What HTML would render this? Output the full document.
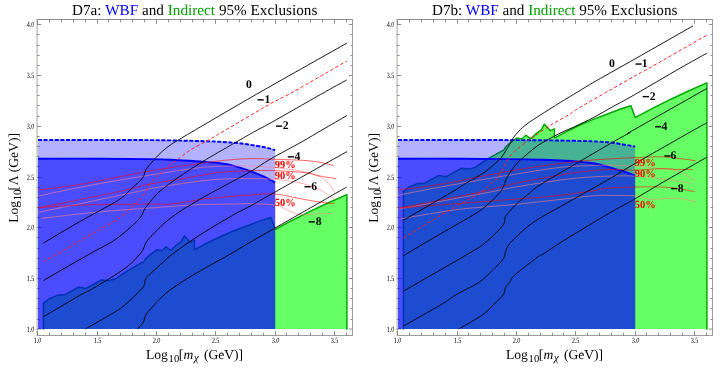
<!DOCTYPE html>
<html><head><meta charset="utf-8"><title>D7 WBF and Indirect 95% Exclusions</title>
<style>
html,body{margin:0;padding:0;background:#fff;}
svg{display:block;font-family:"Liberation Serif",serif;will-change:transform;}
svg text{text-rendering:geometricPrecision;}
</style></head>
<body>
<svg width="720" height="370" viewBox="0 0 720 370">
<rect width="720" height="370" fill="#fff"/>
<g transform="translate(0,0)">
<path d="M37.5,19.5 H352.5" stroke="#8e8e8e" stroke-width="1" fill="none"/>
<path d="M352.5,19.0 V336.0" stroke="#9c9c9c" stroke-width="1" fill="none"/>
<path d="M37.0,335.5 H353.0" stroke="#9c9c9c" stroke-width="1" fill="none"/>
<path d="M37.1,19.0 V336.0" stroke="#cfcfcb" stroke-width="1.8" fill="none"/>
<path d="M37.50,335.5 v-4.4 M37.50,19.5 v4.4 M49.50,335.5 v-2.8 M49.50,19.5 v2.8 M61.50,335.5 v-2.8 M61.50,19.5 v2.8 M73.50,335.5 v-2.8 M73.50,19.5 v2.8 M85.50,335.5 v-2.8 M85.50,19.5 v2.8 M97.50,335.5 v-4.4 M97.50,19.5 v4.4 M108.50,335.5 v-2.8 M108.50,19.5 v2.8 M120.50,335.5 v-2.8 M120.50,19.5 v2.8 M132.50,335.5 v-2.8 M132.50,19.5 v2.8 M144.50,335.5 v-2.8 M144.50,19.5 v2.8 M156.50,335.5 v-4.4 M156.50,19.5 v4.4 M168.50,335.5 v-2.8 M168.50,19.5 v2.8 M180.50,335.5 v-2.8 M180.50,19.5 v2.8 M192.50,335.5 v-2.8 M192.50,19.5 v2.8 M203.50,335.5 v-2.8 M203.50,19.5 v2.8 M215.50,335.5 v-4.4 M215.50,19.5 v4.4 M227.50,335.5 v-2.8 M227.50,19.5 v2.8 M239.50,335.5 v-2.8 M239.50,19.5 v2.8 M251.50,335.5 v-2.8 M251.50,19.5 v2.8 M263.50,335.5 v-2.8 M263.50,19.5 v2.8 M275.50,335.5 v-4.4 M275.50,19.5 v4.4 M286.50,335.5 v-2.8 M286.50,19.5 v2.8 M298.50,335.5 v-2.8 M298.50,19.5 v2.8 M310.50,335.5 v-2.8 M310.50,19.5 v2.8 M322.50,335.5 v-2.8 M322.50,19.5 v2.8 M334.50,335.5 v-4.4 M334.50,19.5 v4.4 M346.50,335.5 v-2.8 M346.50,19.5 v2.8 M37.0,329.00 h4.1 M352.5,329.00 h-3.6 M37.0,319.50 h2.5 M352.5,319.50 h-2.0 M37.0,308.50 h2.5 M352.5,308.50 h-2.0 M37.0,298.50 h2.5 M352.5,298.50 h-2.0 M37.0,288.50 h2.5 M352.5,288.50 h-2.0 M37.0,278.50 h4.1 M352.5,278.50 h-3.6 M37.0,268.50 h2.5 M352.5,268.50 h-2.0 M37.0,258.50 h2.5 M352.5,258.50 h-2.0 M37.0,248.50 h2.5 M352.5,248.50 h-2.0 M37.0,237.50 h2.5 M352.5,237.50 h-2.0 M37.0,227.50 h4.1 M352.5,227.50 h-3.6 M37.0,217.50 h2.5 M352.5,217.50 h-2.0 M37.0,207.50 h2.5 M352.5,207.50 h-2.0 M37.0,197.50 h2.5 M352.5,197.50 h-2.0 M37.0,187.50 h2.5 M352.5,187.50 h-2.0 M37.0,177.50 h4.1 M352.5,177.50 h-3.6 M37.0,166.50 h2.5 M352.5,166.50 h-2.0 M37.0,156.50 h2.5 M352.5,156.50 h-2.0 M37.0,146.50 h2.5 M352.5,146.50 h-2.0 M37.0,136.50 h2.5 M352.5,136.50 h-2.0 M37.0,126.50 h4.1 M352.5,126.50 h-3.6 M37.0,116.50 h2.5 M352.5,116.50 h-2.0 M37.0,105.50 h2.5 M352.5,105.50 h-2.0 M37.0,95.50 h2.5 M352.5,95.50 h-2.0 M37.0,85.50 h2.5 M352.5,85.50 h-2.0 M37.0,75.50 h4.1 M352.5,75.50 h-3.6 M37.0,65.50 h2.5 M352.5,65.50 h-2.0 M37.0,55.50 h2.5 M352.5,55.50 h-2.0 M37.0,45.50 h2.5 M352.5,45.50 h-2.0 M37.0,34.50 h2.5 M352.5,34.50 h-2.0 M37.0,24.50 h4.1 M352.5,24.50 h-3.6" fill="none" stroke="#6a6a6a" stroke-width="0.75"/>
<path d="M43.4,329.0 L43.4,303.4 L48.4,299.2 L57.7,295.1 L64.4,295.1 L78.6,287.2 L86.1,288.4 L101.2,280.0 L108.8,280.8 L115.5,278.8 L128.9,269.9 L144.0,261.5 L145.6,258.7 L150.0,254.8 L156.7,249.8 L161.7,250.7 L165.9,247.0 L170.9,250.3 L176.8,244.8 L181.0,241.9 L184.4,235.9 L190.2,242.3 L194.4,240.6 L194.4,249.8 L207.0,243.0 L220.5,236.5 L234.0,230.8 L247.6,225.7 L260.0,220.9 L270.9,217.5 L275.2,229.3 L293.0,219.8 L311.0,210.9 L329.0,202.5 L346.9,194.6 L346.9,329.0Z" fill="#00ff00" fill-opacity="0.6"/>
<path d="M43.4,329.7 L43.4,303.4 L48.4,299.2 L57.7,295.1 L64.4,295.1 L78.6,287.2 L86.1,288.4 L101.2,280.0 L108.8,280.8 L115.5,278.8 L128.9,269.9 L144.0,261.5 L145.6,258.7 L150.0,254.8 L156.7,249.8 L161.7,250.7 L165.9,247.0 L170.9,250.3 L176.8,244.8 L181.0,241.9 L184.4,235.9 L190.2,242.3 L194.4,240.6 L194.4,249.8 L207.0,243.0 L220.5,236.5 L234.0,230.8 L247.6,225.7 L260.0,220.9 L270.9,217.5 L275.2,229.3 L293.0,219.8 L311.0,210.9 L329.0,202.5 L346.9,194.6 L346.9,329.7" fill="none" stroke="#00a800" stroke-width="1.5" stroke-linejoin="round"/>
<path d="M38.0,140.0 C48.3,140.0 81.3,140.0 100.0,140.0 C118.7,140.0 136.1,140.0 150.0,140.1 C163.9,140.2 174.3,140.5 183.5,140.7 C192.7,140.9 198.9,141.0 205.0,141.2 C211.1,141.4 215.0,141.5 220.0,141.8 C225.0,142.1 230.0,142.3 234.9,142.8 C239.8,143.3 244.8,143.9 249.7,144.7 C254.6,145.4 260.4,146.4 264.6,147.3 C268.9,148.2 273.4,149.6 275.2,150.0 L275.2,329.0 L38,329.0Z" fill="#0000ff" fill-opacity="0.3"/>
<path d="M38.0,158.7 C48.3,158.7 81.3,158.6 100.0,158.7 C118.7,158.8 137.5,158.9 150.0,159.1 C162.5,159.3 166.6,159.6 175.0,160.0 C183.4,160.4 192.8,160.9 200.3,161.5 C207.8,162.1 214.2,162.5 220.0,163.3 C225.8,164.1 230.0,164.8 234.9,166.1 C239.8,167.3 244.8,169.0 249.7,170.8 C254.6,172.6 260.4,174.9 264.6,176.8 C268.9,178.8 273.4,181.6 275.2,182.5 L275.2,329.0 L38,329.0Z" fill="#0000ff" fill-opacity="0.5714"/>
<path d="M38.0,140.0 C48.3,140.0 81.3,140.0 100.0,140.0 C118.7,140.0 136.1,140.0 150.0,140.1 C163.9,140.2 174.3,140.5 183.5,140.7 C192.7,140.9 198.9,141.0 205.0,141.2 C211.1,141.4 215.0,141.5 220.0,141.8 C225.0,142.1 230.0,142.3 234.9,142.8 C239.8,143.3 244.8,143.9 249.7,144.7 C254.6,145.4 260.4,146.4 264.6,147.3 C268.9,148.2 273.4,149.6 275.2,150.0" fill="none" stroke="#0000ff" stroke-width="1.9" stroke-dasharray="4.1 1.5"/>
<path d="M38.0,158.7 C48.3,158.7 81.3,158.6 100.0,158.7 C118.7,158.8 137.5,158.9 150.0,159.1 C162.5,159.3 166.6,159.6 175.0,160.0 C183.4,160.4 192.8,160.9 200.3,161.5 C207.8,162.1 214.2,162.5 220.0,163.3 C225.8,164.1 230.0,164.8 234.9,166.1 C239.8,167.3 244.8,169.0 249.7,170.8 C254.6,172.6 260.4,174.9 264.6,176.8 C268.9,178.8 273.4,181.6 275.2,182.5" fill="none" stroke="#0000ff" stroke-width="1.9"/>
<path d="M38.4,196.2 C41.5,195.5 46.9,194.0 56.8,192.0 C66.6,190.0 82.0,186.8 97.5,184.0 C113.0,181.2 132.9,177.8 150.0,175.1 C167.1,172.4 186.3,169.1 200.3,167.6 C214.3,166.1 225.5,166.3 233.8,166.0 C242.1,165.7 243.1,165.7 250.0,166.0 C256.9,166.3 266.6,166.9 275.0,167.7 C283.4,168.5 293.3,169.7 300.3,171.0 C307.3,172.3 312.6,173.8 317.0,175.6 C321.4,177.3 324.2,179.7 326.5,181.5 C328.8,183.3 329.6,184.6 331.0,186.5 C332.4,188.4 334.3,191.9 335.0,193.0" fill="none" stroke="#ff8080" stroke-width="0.6"/>
<path d="M38.4,212.4 C54.6,209.0 117.0,195.9 135.6,192.0 C154.2,188.1 142.0,190.1 150.0,188.7 C158.0,187.2 172.3,184.9 183.5,183.3 C194.7,181.8 205.9,180.2 217.0,179.4 C228.1,178.6 240.3,178.6 250.0,178.6 C259.7,178.6 266.7,178.7 275.0,179.4 C283.3,180.1 293.0,181.2 300.0,182.8 C307.0,184.4 313.1,187.2 317.0,188.7 C320.9,190.2 320.8,189.9 323.7,191.7 C326.6,193.5 332.8,198.2 334.6,199.5" fill="none" stroke="#ff8080" stroke-width="0.6"/>
<path d="M40.9,218.5 C50.2,217.4 78.8,213.8 97.0,212.1 C115.2,210.3 137.0,209.0 150.0,208.0 C163.0,207.0 166.7,206.8 175.1,206.2 C183.5,205.6 190.5,204.9 200.3,204.6 C210.1,204.2 225.5,204.2 233.8,204.1 C242.1,203.9 243.1,203.5 250.0,203.7 C256.9,203.8 268.9,204.0 275.0,205.0 C281.1,206.0 282.7,208.0 286.9,209.6 C291.1,211.2 295.3,213.9 300.3,214.6 C305.3,215.3 311.4,214.0 317.0,213.8 C322.6,213.6 331.0,213.6 333.8,213.5" fill="none" stroke="#ff8080" stroke-width="0.6"/>
<path d="M38.4,190.0 C45.8,189.0 63.9,187.2 82.5,184.0 C101.1,180.8 130.4,174.4 150.0,171.0 C169.6,167.6 187.4,165.3 200.0,163.5 C212.6,161.7 217.0,161.0 225.4,160.2 C233.8,159.4 242.3,158.8 250.6,158.6 C258.9,158.4 266.7,159.0 275.0,159.3 C283.3,159.6 293.3,159.8 300.3,160.2 C307.3,160.6 311.4,160.9 317.0,161.8 C322.6,162.7 331.0,164.9 333.8,165.5" fill="none" stroke="#ff0000" stroke-width="0.6"/>
<path d="M38.4,207.9 C51.5,205.2 98.5,196.0 117.1,192.0 C135.7,188.0 138.9,186.2 150.0,184.0 C161.1,181.8 172.3,180.5 183.5,178.6 C194.7,176.7 205.8,174.0 217.0,172.7 C228.2,171.4 240.9,171.0 250.6,170.7 C260.3,170.4 265.9,170.4 275.0,170.7 C284.1,171.0 297.7,171.8 305.3,172.7 C312.9,173.6 315.2,175.1 320.4,176.1 C325.6,177.1 333.6,178.2 336.3,178.6" fill="none" stroke="#ff0000" stroke-width="0.6"/>
<path d="M38.4,207.9 C45.4,207.4 61.7,205.7 80.3,205.1 C98.9,204.5 135.6,204.2 150.0,204.1 C164.4,204.0 161.2,204.7 166.8,204.4 C172.4,204.1 177.9,203.2 183.5,202.4 C189.1,201.6 193.3,200.4 200.3,199.5 C207.3,198.6 217.0,197.8 225.4,197.0 C233.8,196.2 242.3,195.5 250.6,195.0 C258.9,194.5 266.7,193.4 275.0,194.0 C283.3,194.6 292.5,197.3 300.3,198.7 C308.1,200.1 316.3,201.6 322.0,202.4 C327.7,203.2 332.5,203.5 334.6,203.7" fill="none" stroke="#ff0000" stroke-width="0.6"/>
<path d="M43.4,243.1 C48.9,239.8 69.7,227.3 80.3,221.3 C90.9,215.3 107.3,206.7 113.8,202.9 C120.3,199.1 121.3,198.2 123.8,196.2 C126.3,194.2 128.0,191.9 130.5,189.5 C133.0,187.1 138.6,182.4 140.6,180.3 C142.6,178.2 143.2,176.7 144.0,175.2 C144.8,173.7 144.7,171.8 145.6,170.2 C146.5,168.6 148.1,166.7 150.0,164.4 C151.9,162.1 155.9,157.6 158.4,155.1 C160.9,152.6 164.0,149.7 166.8,147.6 C169.6,145.5 172.5,143.5 176.8,140.9 C181.1,138.3 182.6,137.4 195.2,130.0 C207.8,122.6 238.1,104.7 260.9,91.7 C283.7,78.7 334.0,50.4 346.9,43.1" fill="none" stroke="#000" stroke-width="0.9" stroke-linejoin="round"/>
<path d="M43.4,280.5 C50.3,276.5 78.9,260.0 89.5,254.0 C100.1,248.0 107.6,244.6 113.8,240.6 C120.0,236.6 126.6,230.7 130.6,227.2 C134.6,223.7 138.5,219.9 140.6,217.1 C142.7,214.3 143.4,211.1 144.8,208.8 C146.2,206.5 148.0,204.4 150.0,202.0 C152.0,199.6 155.1,195.5 158.4,192.5 C161.7,189.5 168.0,184.8 171.8,182.0 C175.6,179.2 178.7,177.1 183.5,173.9 C188.3,170.8 196.1,165.6 203.6,161.0 C211.1,156.4 225.7,148.1 233.8,143.4 C241.9,138.8 251.9,133.0 257.3,130.0 C262.7,127.0 259.8,129.0 270.0,123.3 C280.2,117.6 313.9,98.2 325.4,91.7 C336.9,85.2 343.7,81.7 346.9,79.9" fill="none" stroke="#000" stroke-width="0.9" stroke-linejoin="round"/>
<path d="M43.4,316.8 C48.9,313.5 73.3,299.1 80.3,295.1 C87.3,291.1 85.3,292.9 90.3,290.0 C95.3,287.1 108.3,279.3 113.8,275.8 C119.3,272.3 124.2,268.9 127.2,266.6 C130.2,264.3 132.1,262.4 133.9,260.7 C135.7,259.0 137.7,256.5 139.0,255.0 C140.3,253.5 141.6,252.2 142.6,250.5 C143.6,248.8 144.5,245.6 145.4,243.9 C146.3,242.2 147.2,240.6 148.5,239.0 C149.8,237.4 151.7,235.8 153.9,233.5 C156.1,231.2 160.6,226.6 163.4,224.0 C166.2,221.4 170.0,218.6 172.8,216.5 C175.6,214.4 179.5,211.6 182.3,209.8 C185.1,208.0 188.9,205.9 191.7,204.2 C194.5,202.5 197.7,200.5 201.2,198.5 C204.7,196.5 207.7,194.9 215.0,190.9 C222.3,186.9 241.8,176.6 250.0,171.9 C258.2,167.2 262.2,163.8 270.0,159.3 C277.8,154.8 294.2,146.1 302.0,141.7 C309.8,137.3 315.3,133.9 322.0,130.0 C328.7,126.1 343.2,117.7 346.9,115.5" fill="none" stroke="#000" stroke-width="0.9" stroke-linejoin="round"/>
<path d="M85.3,329.0 C89.6,326.5 108.0,316.1 113.8,312.6 C119.6,309.1 120.3,308.8 123.8,305.9 C127.3,303.0 134.8,295.8 137.3,293.4 C139.8,291.0 139.6,291.1 140.6,290.0 C141.6,288.9 143.2,287.4 144.0,285.8 C144.8,284.2 144.7,280.9 145.6,279.1 C146.5,277.3 145.9,277.9 150.0,274.1 C154.1,270.3 165.1,259.9 172.6,254.0 C180.1,248.1 191.1,240.6 200.3,234.7 C209.5,228.8 226.3,218.9 233.8,214.6 C241.3,210.3 243.8,209.6 250.0,206.2 C256.2,202.8 260.6,200.2 275.1,192.0 C289.6,183.8 336.1,157.7 346.9,151.6" fill="none" stroke="#000" stroke-width="0.9" stroke-linejoin="round"/>
<path d="M137.3,329.0 C138.2,328.1 141.9,324.8 143.1,322.7 C144.3,320.6 144.6,317.1 145.6,315.1 C146.6,313.2 146.8,313.1 150.0,309.7 C153.2,306.3 160.5,297.6 166.8,292.5 C173.1,287.4 182.4,281.6 191.9,275.8 C201.4,270.0 221.7,259.0 230.4,254.0 C239.1,249.0 243.3,246.2 250.0,242.3 C256.7,238.4 261.9,235.5 275.1,228.0 C288.3,220.5 327.2,198.2 338.0,192.0 C348.8,185.8 345.6,187.8 346.9,187.0" fill="none" stroke="#000" stroke-width="0.9" stroke-linejoin="round"/>
<path d="M43.4,261.5 C45.5,260.3 52.2,256.8 57.7,253.7 C63.2,250.6 73.1,244.7 80.3,240.6 C87.5,236.5 99.4,229.9 105.4,226.4 C111.4,222.9 116.7,219.9 120.5,217.1 C124.3,214.3 127.8,210.4 130.6,207.9 C133.4,205.4 136.7,202.8 138.9,200.4 C141.2,198.0 143.9,194.6 145.6,192.0 C147.3,189.4 147.8,186.1 150.0,183.3 C152.2,180.5 157.5,175.9 160.0,173.6 C162.5,171.3 164.3,169.7 166.8,167.7 C169.3,165.7 173.3,162.8 176.8,160.2 C180.3,157.6 185.7,153.0 190.2,150.1 C194.7,147.2 201.6,143.9 207.0,140.9 C212.4,137.9 216.6,135.3 226.0,129.8 C235.4,124.3 259.9,109.7 270.0,104.0 C280.1,98.3 282.1,98.2 293.6,91.7 C305.1,85.2 338.9,65.6 346.9,61.0" fill="none" stroke="#ff1a1a" stroke-width="0.95" stroke-dasharray="3.4 2.3" stroke-linejoin="round"/>
<g font-size="8" fill="#000">
<text x="33.7" y="343.1" textLength="7.8" lengthAdjust="spacingAndGlyphs">1.0</text>
<text x="93.7" y="343.1" textLength="7.8" lengthAdjust="spacingAndGlyphs">1.5</text>
<text x="152.7" y="343.1" textLength="7.8" lengthAdjust="spacingAndGlyphs">2.0</text>
<text x="211.7" y="343.1" textLength="7.8" lengthAdjust="spacingAndGlyphs">2.5</text>
<text x="271.7" y="343.1" textLength="7.8" lengthAdjust="spacingAndGlyphs">3.0</text>
<text x="330.7" y="343.1" textLength="7.8" lengthAdjust="spacingAndGlyphs">3.5</text>
<text x="26.7" y="331.8" textLength="7.7" lengthAdjust="spacingAndGlyphs">1.0</text>
<text x="26.7" y="281.0" textLength="7.7" lengthAdjust="spacingAndGlyphs">1.5</text>
<text x="26.7" y="230.2" textLength="7.7" lengthAdjust="spacingAndGlyphs">2.0</text>
<text x="26.7" y="179.5" textLength="7.7" lengthAdjust="spacingAndGlyphs">2.5</text>
<text x="26.7" y="128.8" textLength="7.7" lengthAdjust="spacingAndGlyphs">3.0</text>
<text x="26.7" y="78.0" textLength="7.7" lengthAdjust="spacingAndGlyphs">3.5</text>
<text x="26.7" y="27.2" textLength="7.7" lengthAdjust="spacingAndGlyphs">4.0</text>
</g>
<g font-size="11.7" font-weight="bold" fill="#000" text-anchor="end">
<text x="251.75" y="88.1">0</text>
<rect x="257.5" y="99.15" width="6.2" height="1.4"/>
<text x="270.45" y="103.1">1</text>
<rect x="276" y="125.45" width="6.2" height="1.4"/>
<text x="288.55" y="129.4">2</text>
<rect x="287.7" y="156.15" width="6.2" height="1.4"/>
<text x="300.35" y="160.1">4</text>
<rect x="304.5" y="186.05" width="6.2" height="1.4"/>
<text x="317.05" y="190.0">6</text>
<rect x="308.65" y="221.15" width="6.2" height="1.4"/>
<text x="321.70" y="225.1">8</text>
</g>
<g font-size="11" font-weight="bold" fill="#ff0000">
<text x="274.7" y="167.9" textLength="20.9" lengthAdjust="spacingAndGlyphs">99%</text>
<text x="274.7" y="178.5" textLength="20.9" lengthAdjust="spacingAndGlyphs">90%</text>
<text x="274.7" y="205.6" textLength="20.9" lengthAdjust="spacingAndGlyphs">50%</text>
</g>
<text x="72" y="15.2" font-size="15.2" textLength="245.4" lengthAdjust="spacing" xml:space="preserve">D7a: <tspan fill="#0000ff">WBF</tspan> and <tspan fill="#00a000">Indirect</tspan> 95% Exclusions</text>
<text y="359" font-size="13.6" xml:space="preserve"><tspan x="146.0">Log</tspan><tspan font-size="10.6" dy="2.7" x="168.6">10</tspan><tspan dy="-2.7" x="178.7">[</tspan><tspan font-style="italic" x="183.6">m</tspan><tspan font-style="italic" font-size="10.8" dy="1.6" x="194.0">&#967;</tspan><tspan dy="-1.6" x="203.9">(GeV)]</tspan></text>
<text transform="translate(17.9,222.8) rotate(-90)" font-size="13.6" xml:space="preserve"><tspan x="0">Log</tspan><tspan font-size="11.2" dy="2.7" x="22.2">10</tspan><tspan dy="-2.7" x="32.3">[</tspan><tspan x="37.5">&#923;</tspan><tspan x="50.5">(GeV)]</tspan></text>
</g>
<g transform="translate(360,0)">
<path d="M37.5,19.5 H352.5" stroke="#8e8e8e" stroke-width="1" fill="none"/>
<path d="M352.5,19.0 V336.0" stroke="#9c9c9c" stroke-width="1" fill="none"/>
<path d="M37.0,335.5 H353.0" stroke="#9c9c9c" stroke-width="1" fill="none"/>
<path d="M37.1,19.0 V336.0" stroke="#cfcfcb" stroke-width="1.8" fill="none"/>
<path d="M37.50,335.5 v-4.4 M37.50,19.5 v4.4 M49.50,335.5 v-2.8 M49.50,19.5 v2.8 M61.50,335.5 v-2.8 M61.50,19.5 v2.8 M73.50,335.5 v-2.8 M73.50,19.5 v2.8 M85.50,335.5 v-2.8 M85.50,19.5 v2.8 M97.50,335.5 v-4.4 M97.50,19.5 v4.4 M108.50,335.5 v-2.8 M108.50,19.5 v2.8 M120.50,335.5 v-2.8 M120.50,19.5 v2.8 M132.50,335.5 v-2.8 M132.50,19.5 v2.8 M144.50,335.5 v-2.8 M144.50,19.5 v2.8 M156.50,335.5 v-4.4 M156.50,19.5 v4.4 M168.50,335.5 v-2.8 M168.50,19.5 v2.8 M180.50,335.5 v-2.8 M180.50,19.5 v2.8 M192.50,335.5 v-2.8 M192.50,19.5 v2.8 M203.50,335.5 v-2.8 M203.50,19.5 v2.8 M215.50,335.5 v-4.4 M215.50,19.5 v4.4 M227.50,335.5 v-2.8 M227.50,19.5 v2.8 M239.50,335.5 v-2.8 M239.50,19.5 v2.8 M251.50,335.5 v-2.8 M251.50,19.5 v2.8 M263.50,335.5 v-2.8 M263.50,19.5 v2.8 M275.50,335.5 v-4.4 M275.50,19.5 v4.4 M286.50,335.5 v-2.8 M286.50,19.5 v2.8 M298.50,335.5 v-2.8 M298.50,19.5 v2.8 M310.50,335.5 v-2.8 M310.50,19.5 v2.8 M322.50,335.5 v-2.8 M322.50,19.5 v2.8 M334.50,335.5 v-4.4 M334.50,19.5 v4.4 M346.50,335.5 v-2.8 M346.50,19.5 v2.8 M37.0,329.00 h4.1 M352.5,329.00 h-3.6 M37.0,319.50 h2.5 M352.5,319.50 h-2.0 M37.0,308.50 h2.5 M352.5,308.50 h-2.0 M37.0,298.50 h2.5 M352.5,298.50 h-2.0 M37.0,288.50 h2.5 M352.5,288.50 h-2.0 M37.0,278.50 h4.1 M352.5,278.50 h-3.6 M37.0,268.50 h2.5 M352.5,268.50 h-2.0 M37.0,258.50 h2.5 M352.5,258.50 h-2.0 M37.0,248.50 h2.5 M352.5,248.50 h-2.0 M37.0,237.50 h2.5 M352.5,237.50 h-2.0 M37.0,227.50 h4.1 M352.5,227.50 h-3.6 M37.0,217.50 h2.5 M352.5,217.50 h-2.0 M37.0,207.50 h2.5 M352.5,207.50 h-2.0 M37.0,197.50 h2.5 M352.5,197.50 h-2.0 M37.0,187.50 h2.5 M352.5,187.50 h-2.0 M37.0,177.50 h4.1 M352.5,177.50 h-3.6 M37.0,166.50 h2.5 M352.5,166.50 h-2.0 M37.0,156.50 h2.5 M352.5,156.50 h-2.0 M37.0,146.50 h2.5 M352.5,146.50 h-2.0 M37.0,136.50 h2.5 M352.5,136.50 h-2.0 M37.0,126.50 h4.1 M352.5,126.50 h-3.6 M37.0,116.50 h2.5 M352.5,116.50 h-2.0 M37.0,105.50 h2.5 M352.5,105.50 h-2.0 M37.0,95.50 h2.5 M352.5,95.50 h-2.0 M37.0,85.50 h2.5 M352.5,85.50 h-2.0 M37.0,75.50 h4.1 M352.5,75.50 h-3.6 M37.0,65.50 h2.5 M352.5,65.50 h-2.0 M37.0,55.50 h2.5 M352.5,55.50 h-2.0 M37.0,45.50 h2.5 M352.5,45.50 h-2.0 M37.0,34.50 h2.5 M352.5,34.50 h-2.0 M37.0,24.50 h4.1 M352.5,24.50 h-3.6" fill="none" stroke="#6a6a6a" stroke-width="0.75"/>
<path d="M43.4,329.0 L43.4,191.7 L48.4,187.5 L57.7,183.4 L64.4,183.4 L78.6,175.5 L86.1,176.7 L101.2,168.3 L108.8,169.1 L115.5,167.1 L128.9,158.2 L144.0,149.8 L145.6,147.0 L150.0,143.1 L156.7,138.1 L161.7,139.0 L165.9,135.3 L170.9,138.6 L176.8,133.1 L181.0,130.2 L184.4,124.2 L190.2,130.6 L194.4,128.9 L194.4,138.1 L207.0,131.3 L220.5,124.8 L234.0,119.1 L247.6,114.0 L260.0,109.2 L270.9,105.8 L275.2,117.6 L293.0,108.1 L311.0,99.2 L329.0,90.8 L346.9,82.9 L346.9,329.0Z" fill="#00ff00" fill-opacity="0.6"/>
<path d="M43.4,329.7 L43.4,191.7 L48.4,187.5 L57.7,183.4 L64.4,183.4 L78.6,175.5 L86.1,176.7 L101.2,168.3 L108.8,169.1 L115.5,167.1 L128.9,158.2 L144.0,149.8 L145.6,147.0 L150.0,143.1 L156.7,138.1 L161.7,139.0 L165.9,135.3 L170.9,138.6 L176.8,133.1 L181.0,130.2 L184.4,124.2 L190.2,130.6 L194.4,128.9 L194.4,138.1 L207.0,131.3 L220.5,124.8 L234.0,119.1 L247.6,114.0 L260.0,109.2 L270.9,105.8 L275.2,117.6 L293.0,108.1 L311.0,99.2 L329.0,90.8 L346.9,82.9 L346.9,329.7" fill="none" stroke="#00a800" stroke-width="1.5" stroke-linejoin="round"/>
<path d="M38.0,140.0 C48.3,140.0 81.3,140.0 100.0,140.0 C118.7,140.0 136.1,140.0 150.0,140.1 C163.9,140.2 171.8,140.2 183.5,140.3 C195.2,140.4 211.4,140.7 220.0,140.9 C228.6,141.1 230.0,141.2 234.9,141.4 C239.8,141.7 244.8,141.9 249.7,142.4 C254.6,142.9 260.4,144.0 264.6,144.7 C268.9,145.4 273.4,146.3 275.2,146.6 L275.2,329.0 L38,329.0Z" fill="#0000ff" fill-opacity="0.3"/>
<path d="M38.0,158.7 C48.3,158.7 81.3,158.6 100.0,158.7 C118.7,158.8 136.1,158.9 150.0,159.1 C163.9,159.3 175.2,159.6 183.5,159.8 C191.8,160.0 193.9,160.2 200.0,160.5 C206.1,160.8 214.2,161.3 220.0,161.8 C225.8,162.3 230.0,162.6 234.9,163.5 C239.8,164.4 244.8,165.9 249.7,167.3 C254.6,168.7 260.4,170.3 264.6,171.7 C268.9,173.1 273.4,175.0 275.2,175.7 L275.2,329.0 L38,329.0Z" fill="#0000ff" fill-opacity="0.5714"/>
<path d="M38.0,140.0 C48.3,140.0 81.3,140.0 100.0,140.0 C118.7,140.0 136.1,140.0 150.0,140.1 C163.9,140.2 171.8,140.2 183.5,140.3 C195.2,140.4 211.4,140.7 220.0,140.9 C228.6,141.1 230.0,141.2 234.9,141.4 C239.8,141.7 244.8,141.9 249.7,142.4 C254.6,142.9 260.4,144.0 264.6,144.7 C268.9,145.4 273.4,146.3 275.2,146.6" fill="none" stroke="#0000ff" stroke-width="1.9" stroke-dasharray="4.1 1.5"/>
<path d="M38.0,158.7 C48.3,158.7 81.3,158.6 100.0,158.7 C118.7,158.8 136.1,158.9 150.0,159.1 C163.9,159.3 175.2,159.6 183.5,159.8 C191.8,160.0 193.9,160.2 200.0,160.5 C206.1,160.8 214.2,161.3 220.0,161.8 C225.8,162.3 230.0,162.6 234.9,163.5 C239.8,164.4 244.8,165.9 249.7,167.3 C254.6,168.7 260.4,170.3 264.6,171.7 C268.9,173.1 273.4,175.0 275.2,175.7" fill="none" stroke="#0000ff" stroke-width="1.9"/>
<path d="M38.4,195.4 C41.0,194.8 44.4,193.9 54.3,192.0 C64.1,190.1 81.5,186.8 97.5,184.0 C113.5,181.2 132.9,177.8 150.0,175.0 C167.1,172.2 186.3,169.0 200.3,167.4 C214.3,165.8 225.5,165.9 233.8,165.5 C242.1,165.1 243.1,165.1 250.0,165.2 C256.9,165.3 266.6,165.4 275.0,166.0 C283.4,166.6 293.3,167.8 300.3,168.6 C307.3,169.4 311.1,169.1 317.0,171.0 C322.9,172.9 332.4,178.8 335.5,180.3" fill="none" stroke="#ff8080" stroke-width="0.6"/>
<path d="M39.2,209.0 C54.4,206.2 112.0,195.5 130.5,192.0 C149.0,188.5 141.2,189.6 150.0,188.0 C158.8,186.4 172.3,184.2 183.5,182.5 C194.7,180.8 205.9,179.1 217.0,178.0 C228.1,176.9 240.3,176.4 250.0,176.1 C259.7,175.8 266.7,175.7 275.0,176.1 C283.3,176.5 293.0,177.8 300.0,178.6 C307.0,179.4 311.7,180.3 317.0,181.1 C322.3,181.9 329.5,183.2 332.0,183.6" fill="none" stroke="#ff8080" stroke-width="0.6"/>
<path d="M40.9,218.8 C50.2,217.3 78.8,211.9 97.0,209.6 C115.2,207.3 134.2,206.4 150.0,204.9 C165.8,203.4 177.9,201.9 191.9,200.4 C205.9,198.9 224.1,196.5 233.8,195.7 C243.5,194.9 243.1,195.4 250.0,195.4 C256.9,195.4 268.0,195.2 275.0,195.9 C282.0,196.6 284.9,198.9 291.9,199.3 C298.9,199.7 309.6,197.6 317.0,198.1 C324.4,198.6 333.1,201.4 336.3,202.1" fill="none" stroke="#ff8080" stroke-width="0.6"/>
<path d="M38.4,190.0 C45.8,189.0 63.9,187.2 82.5,184.0 C101.1,180.8 130.4,174.4 150.0,171.0 C169.6,167.6 187.4,165.2 200.0,163.5 C212.6,161.8 217.1,161.4 225.4,160.6 C233.7,159.8 241.7,159.4 250.0,158.9 C258.3,158.4 266.7,157.9 275.1,157.6 C283.5,157.2 293.3,156.7 300.3,156.8 C307.3,156.9 311.1,157.5 317.0,158.2 C322.9,158.8 332.4,160.3 335.5,160.7" fill="none" stroke="#ff0000" stroke-width="0.6"/>
<path d="M39.2,208.3 C52.8,205.6 102.0,196.0 120.5,192.0 C139.0,188.0 139.5,186.8 150.0,184.5 C160.5,182.2 172.3,180.0 183.5,178.0 C194.7,176.0 205.9,173.7 217.0,172.3 C228.1,170.9 240.3,169.8 250.0,169.4 C259.7,169.1 266.6,170.3 275.0,170.2 C283.4,170.1 293.3,168.7 300.3,168.6 C307.3,168.5 311.6,169.2 317.0,169.4 C322.4,169.6 330.3,169.6 333.0,169.7" fill="none" stroke="#ff0000" stroke-width="0.6"/>
<path d="M39.2,207.9 C48.8,207.2 78.5,205.1 97.0,203.7 C115.5,202.3 135.6,200.6 150.0,199.5 C164.4,198.4 170.9,198.2 183.5,197.0 C196.1,195.8 214.3,193.5 225.4,192.0 C236.5,190.5 241.7,188.8 250.0,188.0 C258.3,187.2 266.6,187.2 275.0,187.0 C283.4,186.8 293.3,186.8 300.3,187.0 C307.3,187.2 311.3,187.6 317.0,188.4 C322.7,189.2 331.8,191.1 334.7,191.7" fill="none" stroke="#ff0000" stroke-width="0.6"/>
<path d="M43.4,220.2 C50.7,216.0 82.7,197.5 92.0,192.0 C101.3,186.5 100.6,186.5 105.4,183.6 C110.2,180.7 119.4,175.7 123.8,172.7 C128.2,169.7 132.3,165.9 135.0,163.6 C137.7,161.3 139.9,159.1 141.5,157.2 C143.1,155.3 144.7,152.5 145.8,150.7 C146.9,148.9 147.9,147.2 149.0,145.3 C150.1,143.4 151.9,139.8 153.4,137.7 C154.9,135.6 156.7,133.3 158.8,131.2 C160.9,129.1 164.2,126.0 167.4,123.6 C170.6,121.2 175.5,118.2 180.4,115.0 C185.3,111.8 194.7,105.9 200.3,102.4 C205.9,99.0 212.5,95.0 217.5,92.0 C222.5,89.0 227.6,85.8 233.8,82.2 C240.0,78.6 244.0,76.4 258.9,68.0 C273.8,59.6 321.9,32.2 333.0,25.9" fill="none" stroke="#000" stroke-width="0.9" stroke-linejoin="round"/>
<path d="M43.4,255.7 C48.9,252.4 69.7,240.1 80.3,233.9 C90.9,227.7 107.3,218.5 113.8,214.6 C120.3,210.7 120.8,210.3 123.8,207.9 C126.8,205.5 131.4,201.2 133.9,198.7 C136.4,196.2 139.1,193.3 140.6,191.5 C142.1,189.7 142.8,188.1 143.6,186.4 C144.4,184.7 144.8,182.0 145.8,179.9 C146.8,177.8 148.5,174.7 150.1,172.3 C151.7,169.9 154.0,166.4 156.6,163.6 C159.2,160.8 164.2,156.6 167.4,153.9 C170.6,151.2 174.3,147.9 178.2,145.3 C182.1,142.7 189.5,138.7 193.4,136.6 C197.3,134.5 201.0,132.7 204.2,131.2 C207.4,129.7 210.6,128.6 215.0,126.5 C219.4,124.4 228.6,120.1 233.8,117.4 C239.1,114.7 244.6,111.2 250.0,108.2 C255.4,105.2 259.4,103.3 270.0,97.3 C280.6,91.3 308.9,74.6 320.4,68.0 C331.9,61.4 342.9,55.4 346.9,53.2" fill="none" stroke="#000" stroke-width="0.9" stroke-linejoin="round"/>
<path d="M43.4,291.2 C53.1,285.6 95.8,261.1 107.9,254.0 C120.0,246.9 119.5,247.3 123.8,244.0 C128.1,240.7 133.5,235.3 136.5,232.3 C139.5,229.3 142.5,226.1 143.8,223.8 C145.1,221.5 144.4,218.9 145.3,217.1 C146.2,215.3 147.7,213.6 149.5,211.5 C151.3,209.4 154.5,205.8 157.2,203.3 C159.9,200.8 165.0,197.0 167.4,195.0 C169.8,193.0 171.4,191.3 173.0,190.0 C174.6,188.7 175.8,187.8 178.2,186.2 C180.6,184.6 186.2,181.1 188.8,179.5 C191.4,177.9 191.6,177.9 195.5,175.6 C199.4,173.3 206.7,169.0 215.0,164.2 C223.3,159.4 242.3,148.2 250.6,143.4 C258.9,138.6 266.8,134.4 270.0,132.5 C273.2,130.6 260.3,137.6 271.8,131.0 C283.3,124.4 335.6,94.9 346.9,88.5" fill="none" stroke="#000" stroke-width="0.9" stroke-linejoin="round"/>
<path d="M43.4,326.0 C48.9,322.9 72.3,309.9 80.3,305.1 C88.3,300.3 91.2,297.6 97.0,294.2 C102.8,290.8 113.8,285.8 118.8,282.5 C123.8,279.2 127.5,275.2 130.5,272.4 C133.5,269.6 136.9,266.2 138.9,264.1 C140.9,262.0 142.6,260.2 143.7,258.2 C144.8,256.2 145.2,252.6 145.9,250.6 C146.6,248.6 147.4,246.7 148.5,245.0 C149.6,243.3 151.3,241.8 153.5,239.6 C155.7,237.4 160.1,233.1 163.0,230.5 C165.9,227.9 169.6,225.0 173.0,222.6 C176.4,220.2 181.9,216.9 186.0,214.5 C190.1,212.1 194.0,210.2 200.0,206.8 C206.0,203.4 218.8,196.2 226.3,192.0 C233.8,187.8 242.7,182.9 250.0,178.6 C257.3,174.3 262.5,170.8 275.1,163.5 C287.7,156.2 323.0,136.1 333.8,130.0 C344.6,123.9 344.9,124.0 346.9,123.0" fill="none" stroke="#000" stroke-width="0.9" stroke-linejoin="round"/>
<path d="M98.7,329.0 C102.2,326.9 116.9,318.8 122.2,315.1 C127.5,311.4 130.8,307.2 133.9,304.2 C137.0,301.2 141.3,297.5 143.1,295.0 C144.9,292.5 144.6,289.5 145.6,287.5 C146.6,285.5 148.6,283.6 150.0,281.7 C151.4,279.8 150.8,278.4 154.9,274.8 C159.0,271.2 173.0,260.6 177.3,257.4 C181.6,254.2 179.4,256.3 183.5,253.7 C187.6,251.1 194.7,246.2 204.7,240.0 C214.7,233.8 240.2,218.4 250.0,212.7 C259.8,207.0 266.2,203.9 270.0,201.8 C273.8,199.7 269.6,202.1 275.1,198.8 C280.7,195.5 296.2,186.1 307.0,179.9 C317.8,173.7 340.9,160.6 346.9,157.2" fill="none" stroke="#000" stroke-width="0.9" stroke-linejoin="round"/>
<path d="M43.4,238.1 C48.9,234.7 71.0,221.0 80.3,215.5 C89.6,210.0 99.2,204.7 105.4,201.2 C111.6,197.7 117.5,194.6 121.3,192.0 C125.1,189.4 128.1,185.6 130.5,183.6 C132.9,181.6 135.5,180.7 137.2,178.8 C138.8,176.9 140.2,173.5 141.5,171.2 C142.8,168.9 144.5,165.9 145.8,163.6 C147.1,161.3 148.5,158.2 150.1,156.1 C151.7,154.0 154.0,151.9 156.6,149.6 C159.2,147.3 164.2,143.3 167.4,140.9 C170.6,138.5 174.6,135.8 178.2,133.4 C181.8,131.0 186.7,127.5 191.2,124.7 C195.7,121.9 204.6,117.3 208.5,115.0 C212.4,112.7 210.8,112.8 217.0,109.1 C223.2,105.4 241.5,95.0 250.0,90.1 C258.5,85.2 267.5,80.1 273.5,76.7 C279.5,73.3 279.2,73.7 290.2,67.5 C301.2,61.3 338.4,40.0 346.9,35.1" fill="none" stroke="#ff1a1a" stroke-width="0.95" stroke-dasharray="3.4 2.3" stroke-linejoin="round"/>
<g font-size="8" fill="#000">
<text x="33.7" y="343.1" textLength="7.8" lengthAdjust="spacingAndGlyphs">1.0</text>
<text x="93.7" y="343.1" textLength="7.8" lengthAdjust="spacingAndGlyphs">1.5</text>
<text x="152.7" y="343.1" textLength="7.8" lengthAdjust="spacingAndGlyphs">2.0</text>
<text x="211.7" y="343.1" textLength="7.8" lengthAdjust="spacingAndGlyphs">2.5</text>
<text x="271.7" y="343.1" textLength="7.8" lengthAdjust="spacingAndGlyphs">3.0</text>
<text x="330.7" y="343.1" textLength="7.8" lengthAdjust="spacingAndGlyphs">3.5</text>
<text x="26.7" y="331.8" textLength="7.7" lengthAdjust="spacingAndGlyphs">1.0</text>
<text x="26.7" y="281.0" textLength="7.7" lengthAdjust="spacingAndGlyphs">1.5</text>
<text x="26.7" y="230.2" textLength="7.7" lengthAdjust="spacingAndGlyphs">2.0</text>
<text x="26.7" y="179.5" textLength="7.7" lengthAdjust="spacingAndGlyphs">2.5</text>
<text x="26.7" y="128.8" textLength="7.7" lengthAdjust="spacingAndGlyphs">3.0</text>
<text x="26.7" y="78.0" textLength="7.7" lengthAdjust="spacingAndGlyphs">3.5</text>
<text x="26.7" y="27.2" textLength="7.7" lengthAdjust="spacingAndGlyphs">4.0</text>
</g>
<g font-size="11.7" font-weight="bold" fill="#000" text-anchor="end">
<text x="254.85" y="67.0">0</text>
<rect x="275.5" y="63.35" width="6.2" height="1.4"/>
<text x="287.55" y="67.3">1</text>
<rect x="282.7" y="95.95" width="6.2" height="1.4"/>
<text x="295.65" y="99.9">2</text>
<rect x="295" y="126.05" width="6.2" height="1.4"/>
<text x="307.35" y="130.0">4</text>
<rect x="304.4" y="155.25" width="6.2" height="1.4"/>
<text x="316.45" y="159.2">6</text>
<rect x="311.1" y="187.95" width="6.2" height="1.4"/>
<text x="323.65" y="191.9">8</text>
</g>
<g font-size="11" font-weight="bold" fill="#ff0000">
<text x="274.7" y="165.9" textLength="20.9" lengthAdjust="spacingAndGlyphs">99%</text>
<text x="274.7" y="176.8" textLength="20.9" lengthAdjust="spacingAndGlyphs">90%</text>
<text x="274.7" y="207.5" textLength="20.9" lengthAdjust="spacingAndGlyphs">50%</text>
</g>
<text x="72" y="15.2" font-size="15.2" textLength="245.4" lengthAdjust="spacing" xml:space="preserve">D7b: <tspan fill="#0000ff">WBF</tspan> and <tspan fill="#00a000">Indirect</tspan> 95% Exclusions</text>
<text y="359" font-size="13.6" xml:space="preserve"><tspan x="146.0">Log</tspan><tspan font-size="10.6" dy="2.7" x="168.6">10</tspan><tspan dy="-2.7" x="178.7">[</tspan><tspan font-style="italic" x="183.6">m</tspan><tspan font-style="italic" font-size="10.8" dy="1.6" x="194.0">&#967;</tspan><tspan dy="-1.6" x="203.9">(GeV)]</tspan></text>
<text transform="translate(17.9,222.8) rotate(-90)" font-size="13.6" xml:space="preserve"><tspan x="0">Log</tspan><tspan font-size="11.2" dy="2.7" x="22.2">10</tspan><tspan dy="-2.7" x="32.3">[</tspan><tspan x="37.5">&#923;</tspan><tspan x="50.5">(GeV)]</tspan></text>
</g>
</svg>
</body></html>
